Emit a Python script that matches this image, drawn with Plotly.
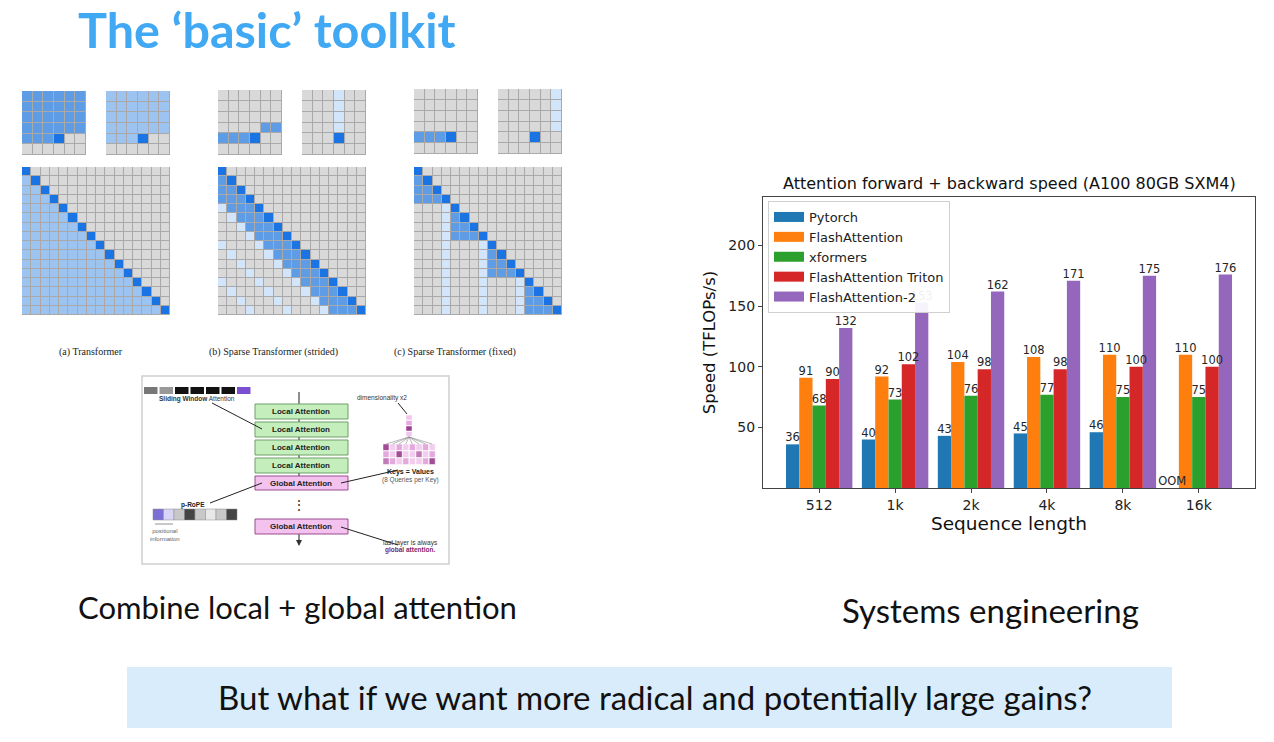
import plotly.graph_objects as go

W, H = 1274, 742

# ---------------- chart data ----------------
seq_lengths = ["512", "1k", "2k", "4k", "8k", "16k"]
series_names = ["Pytorch", "FlashAttention", "xformers", "FlashAttention Triton", "FlashAttention-2"]
pytorch = [36, 40, 43, 45, 46, 0]
pytorch_labels = ["36", "40", "43", "45", "46", "OOM"]
flash_attn = [91, 92, 104, 108, 110, 110]
xformers = [68, 73, 76, 77, 75, 75]
flash_triton = [90, 102, 98, 98, 100, 100]
flash_attn2 = [132, 153, 162, 171, 175, 176]
series_colors = ["#1f77b4", "#ff7f0e", "#2ca02c", "#d62728", "#9467bd"]
y_ticks = [50, 100, 150, 200]


def px(x):
    return x / W


def py(y):
    return 1 - y / H


fig = go.Figure()

positions = list(range(len(seq_lengths)))
BAR_W = 0.175  # width of one bar in category units (5 bars fill 0.875 of a slot)
all_vals = [pytorch, flash_attn, xformers, flash_triton, flash_attn2]
all_labels = [pytorch_labels] + [[str(v) for v in s] for s in all_vals[1:]]
for name, vals, col in zip(series_names, all_vals, series_colors):
    fig.add_trace(go.Bar(
        x=positions, y=vals, name=name, marker=dict(color=col, line=dict(width=0)),
        xaxis="x", yaxis="y", hoverinfo="skip", showlegend=False))
# value labels, drawn above all bars (as matplotlib bar_label does)
for k, (vals, labs) in enumerate(zip(all_vals, all_labels)):
    fig.add_trace(go.Scatter(
        x=[p + (k - 2) * BAR_W for p in positions], y=vals, mode="text", text=labs,
        textposition="top center", cliponaxis=False, showlegend=False, hoverinfo="skip",
        textfont=dict(family="DejaVu Sans", size=11.5, color="#262626"), xaxis="x", yaxis="y"))
# legend entries drawn as wide patches (matplotlib style)
for name, col in zip(series_names, series_colors):
    fig.add_trace(go.Scatter(x=[None], y=[None], mode="lines", name=name,
                             line=dict(color=col, width=10), xaxis="x", yaxis="y", hoverinfo="skip"))

# ---------------- attention pattern diagrams ----------------
GREY, MID, DARK, LIGHT, PALE = 0, 1, 2, 3, 4
cell_colors = ["#d9d9d9", "#5e9ce6", "#1b74e4", "#9dc3f0", "#d3e5fa"]


def blank(n):
    return [[GREY] * n for _ in range(n)]


a_small1 = blank(6)
for r in range(4):
    a_small1[r] = [MID] * 6
a_small1[4] = [MID, MID, MID, DARK, GREY, GREY]
a_small2 = blank(6)
for r in range(4):
    a_small2[r] = [LIGHT] * 6
a_small2[4] = [LIGHT, LIGHT, LIGHT, DARK, GREY, GREY]
a_big = [[DARK if i == j else (LIGHT if j < i else GREY) for j in range(16)] for i in range(16)]

b_small1 = blank(6)
b_small1[3][4] = MID
b_small1[3][5] = MID
b_small1[4] = [MID, MID, MID, DARK, GREY, GREY]
b_small2 = blank(6)
for r in range(4):
    b_small2[r][3] = PALE
b_small2[4][3] = DARK
b_big = blank(16)
for i in range(16):
    for j in range(16):
        d = i - j
        if d == 0:
            b_big[i][j] = DARK
        elif 1 <= d <= 3:
            b_big[i][j] = MID
        elif d >= 4 and d % 4 == 0:
            b_big[i][j] = PALE

c_small1 = blank(6)
c_small1[4] = [MID, MID, MID, DARK, GREY, GREY]
c_small2 = blank(6)
for r in range(4):
    c_small2[r][5] = PALE
c_small2[4][3] = DARK
c_big = blank(16)
for i in range(16):
    for j in range(16):
        if i == j:
            c_big[i][j] = DARK
        elif j < i and j // 4 == i // 4:
            c_big[i][j] = MID
        elif j % 4 == 3 and j // 4 < i // 4:
            c_big[i][j] = PALE

cs = []
for k, c in enumerate(cell_colors):
    cs.append([k / 5, c])
    cs.append([(k + 1) / 5, c])

panels = [
    (a_small1, (22, 86, 91, 155)), (a_small2, (106, 170, 91, 155)), (a_big, (22, 170, 167, 315)),
    (b_small1, (218, 282, 90, 155)), (b_small2, (302, 366, 90, 155)), (b_big, (218, 366, 167, 315)),
    (c_small1, (414, 478, 89, 154)), (c_small2, (498, 562, 89, 154)), (c_big, (414, 562, 167, 315)),
]

shapes = []
annotations = []
layout_axes = {}
for k, (mat, (x0, x1, y0, y1)) in enumerate(panels):
    idx = k + 2
    fig.add_trace(go.Heatmap(z=mat, colorscale=cs, zmin=-0.5, zmax=4.5, showscale=False,
                             xgap=1, ygap=1, hoverinfo="skip", showlegend=False,
                             xaxis=f"x{idx}", yaxis=f"y{idx}"))
    layout_axes[f"xaxis{idx}"] = dict(domain=[px(x0), px(x1)], anchor=f"y{idx}", visible=False,
                                      range=[-0.5, len(mat) - 0.5], fixedrange=True)
    layout_axes[f"yaxis{idx}"] = dict(domain=[py(y1), py(y0)], anchor=f"x{idx}", visible=False,
                                      range=[len(mat) - 0.5, -0.5], fixedrange=True)
    shapes.append(dict(type="rect", xref="paper", yref="paper", x0=px(x0), x1=px(x1),
                       y0=py(y1), y1=py(y0), fillcolor="#a9a9a9", line=dict(width=0), layer="below"))

captions = [("(a) Transformer", 91), ("(b) Sparse Transformer (strided)", 273),
            ("(c) Sparse Transformer (fixed)", 455)]
for txt_, cx in captions:
    annotations.append(dict(text=txt_, x=px(cx), y=py(352), xref="paper", yref="paper",
                            xanchor="center", yanchor="middle", showarrow=False,
                            font=dict(family="Liberation Serif", size=10, color="#222")))


# ---------------- local/global attention diagram ----------------
def rect(x0, y0, x1, y1, fill, line="rgba(0,0,0,0)", lw=0, layer="above"):
    shapes.append(dict(type="rect", xref="paper", yref="paper", x0=px(x0), x1=px(x1),
                       y0=py(y1), y1=py(y0), fillcolor=fill, line=dict(color=line, width=lw), layer=layer))


def seg(x0, y0, x1, y1, col="#333", lw=1, dash="solid"):
    shapes.append(dict(type="line", xref="paper", yref="paper", x0=px(x0), x1=px(x1),
                       y0=py(y0), y1=py(y1), line=dict(color=col, width=lw, dash=dash)))


def txt(s, x, y, size, col="#222", anchor="center", fam="Liberation Sans"):
    annotations.append(dict(text=s, x=px(x), y=py(y), xref="paper", yref="paper", showarrow=False,
                            xanchor=anchor, yanchor="middle", font=dict(family=fam, size=size, color=col)))


rect(142, 376, 449, 564, "white", "#cfcfcf", 1.5)
seg(299, 392, 299, 476, "#444", 1.2)
seg(299, 534, 299, 541, "#444", 1.2)
annotations.append(dict(x=px(299), y=py(546), ax=0, ay=-8, xref="paper", yref="paper",
                        axref="pixel", ayref="pixel", text="", showarrow=True, arrowhead=2,
                        arrowsize=1, arrowwidth=1.2, arrowcolor="#333"))
txt("⋮", 299, 505, 14, "#333")
boxes = [("Local Attention", 404, 419, "#c4efbc", "#6f9f66"),
         ("Local Attention", 422, 437, "#c4efbc", "#6f9f66"),
         ("Local Attention", 440, 455, "#c4efbc", "#6f9f66"),
         ("Local Attention", 458, 473, "#c4efbc", "#6f9f66"),
         ("Global Attention", 476, 490, "#f3c2ee", "#9b4d8e"),
         ("Global Attention", 519, 534, "#f3c2ee", "#9b4d8e")]
for label, y0, y1, fill, line in boxes:
    rect(255, y0, 348, y1, fill, line, 1)
    txt("<b>" + label + "</b>", 301, (y0 + y1) / 2, 8, "#222")

token_cols = ["#777", "#999", "#111", "#111", "#111", "#111", "#7a4fd0"]
for k, c in enumerate(token_cols):
    x0 = 144 + k * 15.5
    rect(x0, 387, x0 + 13.5, 394, c)
txt("<b>Sliding Window</b> Attention", 197, 399, 6.5, "#333")
seg(212, 403, 262, 429, "#222", 1)
txt("dimensionality x2", 382, 398, 6.5, "#333")
seg(398, 403, 407, 414, "#222", 1)
strip_cols = ["#f1c6ee", "#e8a9e3", "#9b3f8f", "#f1c6ee"]
for k, c in enumerate(strip_cols):
    rect(406, 415 + k * 5.5, 412, 420 + k * 5.5, c, "#ffffff", 0.5)
kv_cols = [["#a24c95", "#f2cdee", "#e3a8dd", "#f2cdee", "#e3a8dd", "#f2cdee", "#e3a8dd", "#f2cdee"],
           ["#e3a8dd", "#f2cdee", "#a24c95", "#f2cdee", "#f2cdee", "#c27bb8", "#f2cdee", "#e3a8dd"],
           ["#c27bb8", "#e3a8dd", "#f2cdee", "#e3a8dd", "#f2cdee", "#f2cdee", "#e3a8dd", "#a24c95"]]
for r, row in enumerate(kv_cols):
    for cidx, c in enumerate(row):
        x0 = 383 + cidx * 6.6
        rect(x0, 444 + r * 7, x0 + 6, 450.5 + r * 7, c, "#ffffff", 0.5)
for cidx in range(8):
    seg(409, 437, 386 + cidx * 6.6, 444, "#888", 0.6)
txt("<b>Keys = Values</b>", 410, 472, 7, "#222")
txt("(8 Queries per Key)", 410, 480, 6.5, "#555")
seg(341, 483, 398, 470, "#222", 1)
txt("<b>p-RoPE</b>", 193, 505, 6.5, "#222")
seg(210, 503, 262, 483, "#222", 1)
rope_cols = ["#7b6fd6", "#d8d4f5", "#c8c8c8", "#444", "#c8c8c8", "#e8e8e8", "#c8c8c8", "#444"]
for k, c in enumerate(rope_cols):
    x0 = 153 + k * 10.5
    rect(x0, 509, x0 + 10.5, 520, c, "#888", 0.5)
seg(155, 524, 173, 524, "#777", 0.8)
txt("positional<br>information", 165, 535, 6, "#666")
txt("last layer is always", 410, 543, 6.5, "#333")
txt("<b>global attention.</b>", 410, 550, 6.5, "#7a1f6e")
seg(341, 527, 398, 545, "#222", 1)

# ---------------- slide texts ----------------
SLIDE_FONT = "Lato, Noto Sans, sans-serif"
annotations.append(dict(text="<b>The ‘basic’ toolkit</b>", x=px(76), y=py(29), xref="paper", yref="paper",
                        showarrow=False, xanchor="left", yanchor="middle",
                        font=dict(family=SLIDE_FONT, size=48.5, color="#41a8f4")))
annotations.append(dict(text="Combine local + global attention", x=px(76), y=py(607), xref="paper",
                        yref="paper", showarrow=False, xanchor="left", yanchor="middle",
                        font=dict(family=SLIDE_FONT, size=31, color="#111")))
annotations.append(dict(text="Systems engineering", x=px(840), y=py(610), xref="paper",
                        yref="paper", showarrow=False, xanchor="left", yanchor="middle",
                        font=dict(family=SLIDE_FONT, size=33, color="#111")))
rect(127, 667, 1172, 728, "#d9ecfb", layer="below")
annotations.append(dict(text="But what if we want more radical and potentially large gains?", x=px(655),
                        y=py(697), xref="paper", yref="paper", showarrow=False, xanchor="center",
                        yanchor="middle", font=dict(family=SLIDE_FONT, size=33, color="#111")))

# chart title
annotations.append(dict(text="Attention forward + backward speed (A100 80GB SXM4)", x=px(1009), y=py(183),
                        xref="paper", yref="paper", showarrow=False, xanchor="center", yanchor="middle",
                        font=dict(family="DejaVu Sans", size=16, color="#111")))

fig.update_layout(
    width=W, height=H, margin=dict(l=0, r=0, t=0, b=0),
    paper_bgcolor="white", plot_bgcolor="white",
    barmode="group", bargap=0.125, bargroupgap=0,
    font=dict(family="DejaVu Sans", color="#222"),
    xaxis=dict(domain=[px(763), px(1255)], anchor="y", range=[-0.74, 5.74],
               tickvals=positions, ticktext=seq_lengths,
               showline=True, mirror=True, linecolor="#444", linewidth=1.3,
               ticks="outside", ticklen=4, tickcolor="#444", showgrid=False, zeroline=False,
               tickfont=dict(size=14, color="#222"),
               title=dict(text="Sequence length", font=dict(size=18.5, color="#111"), standoff=4)),
    yaxis=dict(domain=[py(488), py(197)], anchor="x", range=[0, 240], tickvals=y_ticks,
               showline=True, mirror=True, linecolor="#444", linewidth=1.3,
               ticks="outside", ticklen=4, tickcolor="#444", showgrid=False, zeroline=False,
               tickfont=dict(size=14, color="#222"),
               title=dict(text="Speed (TFLOPs/s)", font=dict(size=16.5, color="#111"), standoff=8)),
    legend=dict(x=px(768), y=py(201), xanchor="left", yanchor="top", bgcolor="rgba(255,255,255,0.92)",
                bordercolor="#d0d0d0", borderwidth=1, font=dict(size=13, color="#222"),
                tracegroupgap=0, traceorder="normal", itemwidth=30),
    shapes=shapes, annotations=annotations, showlegend=True,
    **layout_axes,
)

fig.write_html("out.html", config={"displayModeBar": False},
               post_script="document.body.style.margin='0';")
